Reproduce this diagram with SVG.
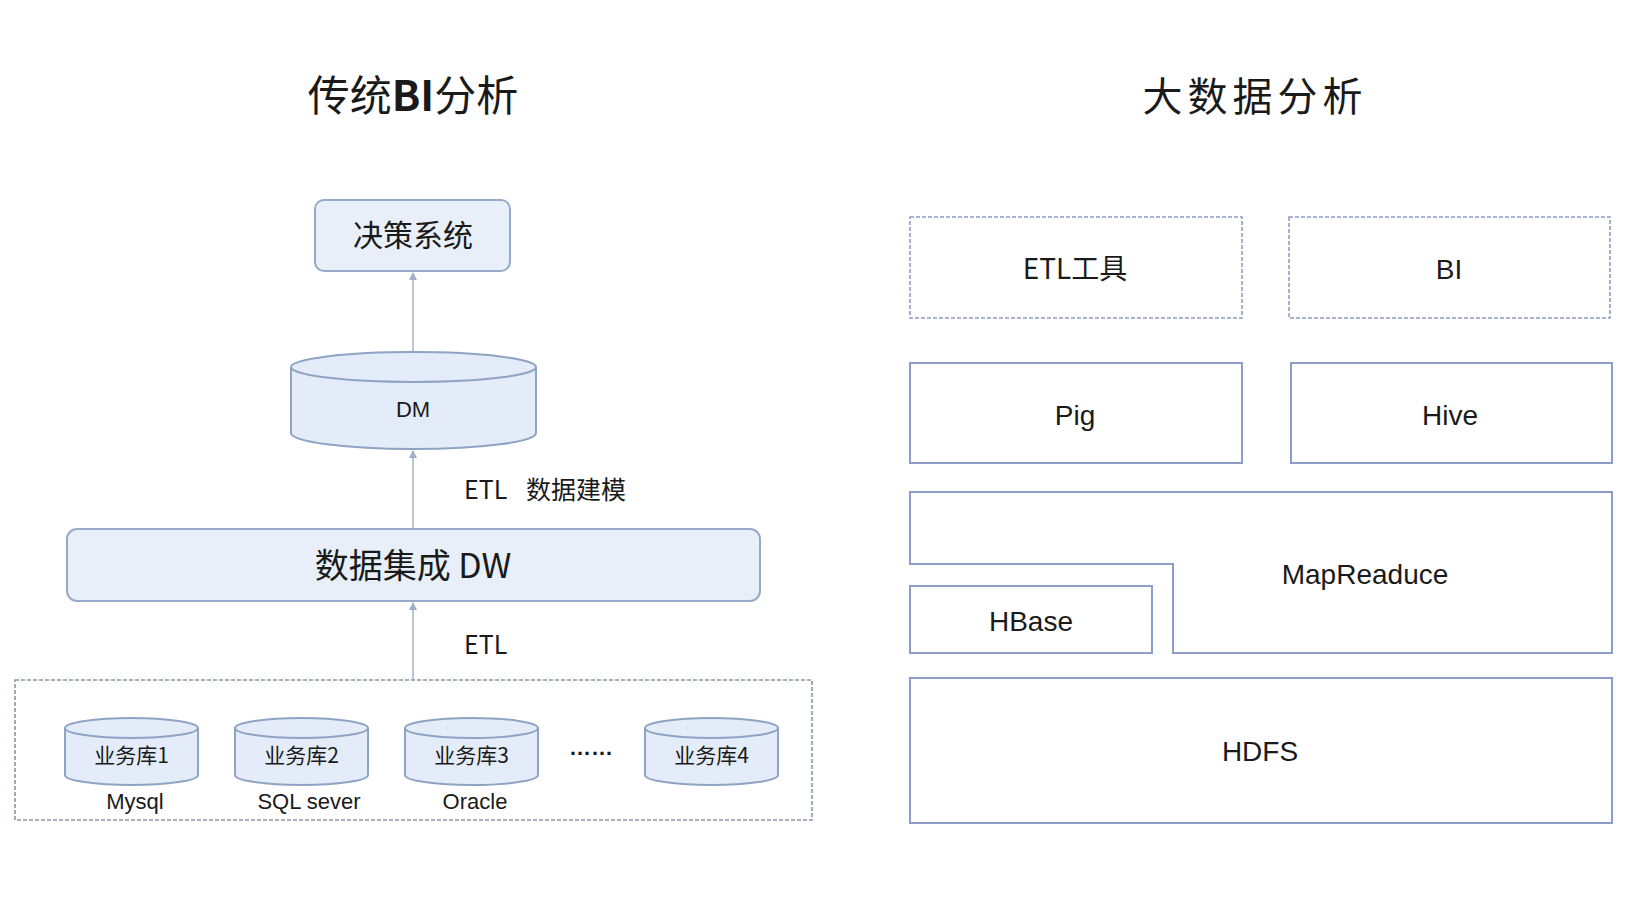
<svg xmlns="http://www.w3.org/2000/svg" width="1636" height="909" viewBox="0 0 1636 909">
<defs>
<style>
.cjk{font-family:"Noto Sans CJK SC","Liberation Sans",sans-serif;fill:#1a1a1a}
.lat{font-family:"Liberation Sans","Noto Sans CJK SC",sans-serif;fill:#1a1a1a}
.lbox{fill:#e8eff9;stroke:#97a9c9;stroke-width:2}
.cyl{fill:#e3ecf8;stroke:#8fa3c4;stroke-width:2}
.rbox{fill:#ffffff;stroke:#8e9cc9;stroke-width:2}
.dash{fill:#ffffff;stroke:#8e9cc9;stroke-width:1.6;stroke-dasharray:4 2}
.conn{stroke:#b9c5d8;stroke-width:2;fill:none}
</style>
<marker id="ah" markerWidth="8" markerHeight="8" refX="7" refY="4" orient="auto" markerUnits="userSpaceOnUse">
<path d="M0,0 L8,4 L0,8 Z" fill="#9fb0c9"/>
</marker>
</defs>
<rect width="1636" height="909" fill="#ffffff"/>

<g id="title-left"><text x="413" y="111" text-anchor="middle" class="cjk" font-size="42">传统<tspan font-weight="bold">BI</tspan>分析</text></g>
<g id="title-right"><text x="1255" y="111" text-anchor="middle" class="cjk" font-size="40" letter-spacing="5">大数据分析</text></g>

<g id="connectors">
<line x1="413" y1="680" x2="413" y2="603" class="conn" marker-end="url(#ah)"/>
<line x1="413" y1="529" x2="413" y2="451" class="conn" marker-end="url(#ah)"/>
<line x1="413" y1="352" x2="413" y2="273" class="conn" marker-end="url(#ah)"/>
</g>

<g id="decision"><rect x="315" y="200" width="195" height="71" rx="9" class="lbox"/><text x="413" y="246" text-anchor="middle" class="cjk" font-size="30">决策系统</text></g>

<g id="dm">
<path d="M291,367 L291,433 A122.5,16 0 0 0 536,433 L536,367" class="cyl"/>
<ellipse cx="413.5" cy="367" rx="122.5" ry="15" class="cyl"/>
<text x="413" y="417" text-anchor="middle" class="lat" font-size="22">DM</text>
</g>

<g id="label-etl-model"><text y="499" class="cjk" font-size="25"><tspan x="464">ETL</tspan><tspan x="526">数据建模</tspan></text></g>

<g id="dw"><rect x="67" y="529" width="693" height="72" rx="10" class="lbox"/><text x="413" y="578" text-anchor="middle" class="cjk" font-size="34">数据集成 DW</text></g>

<g id="label-etl"><text x="464" y="654" class="cjk" font-size="25">ETL</text></g>

<g id="sources">
<rect x="15" y="680" width="797" height="140" fill="none" stroke="#8a96a8" stroke-width="1.6" stroke-dasharray="4 2"/>
<g id="db1">
<path d="M65,728 L65,775 A66.5,10 0 0 0 198,775 L198,728" class="cyl"/>
<ellipse cx="131.5" cy="728" rx="66.5" ry="10" class="cyl"/>
<text x="131.5" y="763" text-anchor="middle" class="cjk" font-size="21">业务库1</text>
</g>
<g id="db2">
<path d="M235,728 L235,775 A66.5,10 0 0 0 368,775 L368,728" class="cyl"/>
<ellipse cx="301.5" cy="728" rx="66.5" ry="10" class="cyl"/>
<text x="301.5" y="763" text-anchor="middle" class="cjk" font-size="21">业务库2</text>
</g>
<g id="db3">
<path d="M405,728 L405,775 A66.5,10 0 0 0 538,775 L538,728" class="cyl"/>
<ellipse cx="471.5" cy="728" rx="66.5" ry="10" class="cyl"/>
<text x="471.5" y="763" text-anchor="middle" class="cjk" font-size="21">业务库3</text>
</g>
<g id="db4">
<path d="M645,728 L645,775 A66.5,10 0 0 0 778,775 L778,728" class="cyl"/>
<ellipse cx="711.5" cy="728" rx="66.5" ry="10" class="cyl"/>
<text x="711.5" y="763" text-anchor="middle" class="cjk" font-size="21">业务库4</text>
</g>
<text x="591" y="755" text-anchor="middle" class="lat" font-size="22" font-weight="bold" letter-spacing="0">……</text>
<text x="135" y="809" text-anchor="middle" class="lat" font-size="22">Mysql</text>
<text x="309" y="809" text-anchor="middle" class="lat" font-size="22">SQL sever</text>
<text x="475" y="809" text-anchor="middle" class="lat" font-size="22">Oracle</text>
</g>

<g id="etl-tool"><rect x="910" y="217" width="332" height="101" class="dash"/><text x="1075" y="279" text-anchor="middle" class="cjk" font-size="28">ETL工具</text></g>
<g id="bi"><rect x="1289" y="217" width="321" height="101" class="dash"/><text x="1449" y="279" text-anchor="middle" class="lat" font-size="28">BI</text></g>
<g id="pig"><rect x="910" y="363" width="332" height="100" class="rbox"/><text x="1075" y="425" text-anchor="middle" class="lat" font-size="28">Pig</text></g>
<g id="hive"><rect x="1291" y="363" width="321" height="100" class="rbox"/><text x="1450" y="425" text-anchor="middle" class="lat" font-size="28">Hive</text></g>
<g id="mapreduce"><path d="M910,492 L1612,492 L1612,653 L1173,653 L1173,564 L910,564 Z" class="rbox"/><text x="1365" y="584" text-anchor="middle" class="lat" font-size="28">MapReaduce</text></g>
<g id="hbase"><rect x="910" y="586" width="242" height="67" class="rbox"/><text x="1031" y="631" text-anchor="middle" class="lat" font-size="28">HBase</text></g>
<g id="hdfs"><rect x="910" y="678" width="702" height="145" class="rbox"/><text x="1260" y="761" text-anchor="middle" class="lat" font-size="28">HDFS</text></g>
</svg>
